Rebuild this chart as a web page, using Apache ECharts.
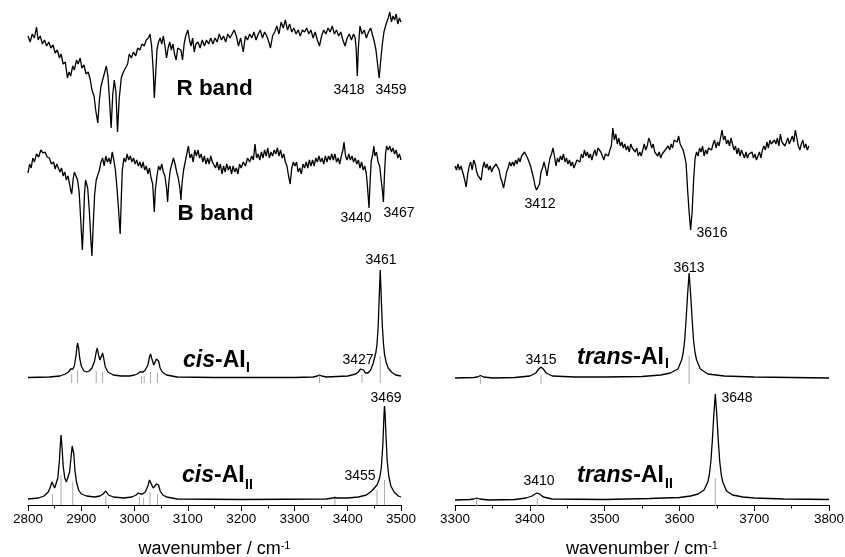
<!DOCTYPE html>
<html>
<head>
<meta charset="utf-8">
<script src="https://cdn.jsdelivr.net/npm/echarts@6.0.0/dist/echarts.min.js"></script>
<style>
  html, body { margin: 0; padding: 0; background: #fff; }
  #main { width: 845px; height: 557px; }
</style>
</head>
<body>
<div id="main"></div>
<script>
// measured spectra, [wavenumber, signal] (arb. units)
const rBand = [
  [2800,14],[2804,8],[2808,16],[2812,12],[2816,23],[2819,10],[2823,14],[2827,6],[2831,10],[2835,4],
  [2839,8],[2843,2],[2847,5],[2851,-3],[2855,0],[2859,-8],[2862,-4],[2866,-14],[2870,-12],[2874,-28],
  [2877,-22],[2880,-26],[2884,-16],[2887,-20],[2891,-10],[2894,-14],[2898,-8],[2901,-18],[2905,-15],[2909,-24],
  [2913,-22],[2917,-30],[2920,-40],[2924,-46],[2927,-60],[2931,-73],[2934,-50],[2937,-36],[2941,-28],[2944,-22],
  [2947,-16],[2950,-26],[2953,-50],[2956,-78],[2959,-45],[2962,-30],[2965,-42],[2968,-82],[2971,-50],[2975,-28],
  [2979,-22],[2983,-18],[2987,-14],[2990,-4],[2994,-8],[2998,-2],[3002,-6],[3006,2],[3010,0],[3014,6],
  [3018,4],[3022,10],[3026,12],[3029,16],[3032,4],[3035,-20],[3037,-48],[3039,-30],[3042,0],[3045,8],
  [3048,12],[3051,6],[3054,14],[3057,4],[3060,-8],[3063,2],[3066,8],[3069,0],[3072,6],[3075,-4],
  [3078,-10],[3081,2],[3084,4],[3087,0],[3090,-10],[3093,6],[3096,14],[3100,20],[3103,10],[3106,4],
  [3109,12],[3112,-2],[3115,6],[3119,8],[3123,2],[3127,10],[3131,4],[3135,10],[3139,6],[3143,12],
  [3147,6],[3151,12],[3155,8],[3159,16],[3163,10],[3167,14],[3171,8],[3175,16],[3179,12],[3183,16],
  [3187,20],[3191,14],[3195,4],[3199,12],[3204,-2],[3208,14],[3212,10],[3216,16],[3220,12],[3224,18],
  [3228,10],[3232,16],[3236,20],[3240,12],[3244,18],[3248,14],[3252,8],[3255,2],[3259,14],[3263,18],
  [3267,24],[3271,16],[3275,28],[3279,22],[3283,30],[3287,20],[3291,26],[3295,18],[3299,22],[3303,16],
  [3307,20],[3311,14],[3315,20],[3319,18],[3323,22],[3327,16],[3331,20],[3335,12],[3339,18],[3343,10],
  [3347,4],[3351,14],[3355,20],[3359,16],[3363,22],[3367,18],[3371,24],[3375,16],[3379,20],[3383,14],
  [3387,18],[3391,10],[3395,4],[3399,12],[3403,16],[3407,10],[3411,16],[3414,12],[3416,0],[3418,-26],
  [3420,2],[3423,24],[3427,16],[3431,20],[3435,12],[3439,18],[3443,22],[3447,14],[3450,8],[3453,0],
  [3456,-14],[3459,-28],[3462,-10],[3465,6],[3468,18],[3472,26],[3476,32],[3479,38],[3482,28],[3485,34],
  [3488,30],[3491,36],[3494,26],[3497,32],[3500,28]
];

const bBand = [
  [2800,-3],[2803,6],[2806,2],[2809,12],[2812,8],[2816,16],[2820,13],[2824,20],[2828,17],[2832,18],
  [2836,13],[2840,12],[2844,6],[2848,8],[2851,1],[2854,6],[2857,8],[2860,-2],[2863,2],[2866,-6],
  [2869,-2],[2872,-10],[2875,-6],[2878,-14],[2880,-20],[2882,-24],[2885,-8],[2887,-2],[2890,-4],[2893,-10],
  [2896,-22],[2899,-50],[2902,-80],[2904,-55],[2906,-24],[2908,-10],[2910,-8],[2912,-18],[2915,-40],[2918,-70],
  [2920,-86],[2922,-60],[2925,-25],[2928,-10],[2931,-12],[2934,0],[2937,8],[2940,12],[2943,4],[2946,14],
  [2949,8],[2952,12],[2955,6],[2958,18],[2961,10],[2964,0],[2967,-18],[2970,-40],[2973,-64],[2975,-30],
  [2977,0],[2980,12],[2983,8],[2986,16],[2989,10],[2992,14],[2995,8],[2998,12],[3001,6],[3004,10],
  [3007,4],[3010,8],[3013,2],[3016,8],[3019,0],[3022,4],[3025,-4],[3028,2],[3031,-8],[3034,-14],
  [3037,-42],[3039,-20],[3042,-6],[3045,4],[3048,0],[3051,6],[3054,-2],[3057,-6],[3060,-18],[3062,-32],
  [3064,-14],[3067,0],[3070,6],[3073,12],[3076,6],[3079,-2],[3082,-8],[3085,-18],[3087,-30],[3089,-14],
  [3092,0],[3095,8],[3098,16],[3101,24],[3104,12],[3107,16],[3110,8],[3113,20],[3116,14],[3119,20],
  [3122,12],[3125,16],[3128,8],[3131,14],[3134,6],[3137,12],[3140,6],[3143,14],[3146,8],[3149,10],
  [3152,2],[3155,8],[3158,0],[3161,6],[3164,-4],[3167,4],[3170,-2],[3173,6],[3176,0],[3179,4],
  [3182,-4],[3185,4],[3188,-2],[3191,2],[3194,-4],[3197,6],[3200,2],[3204,8],[3208,4],[3212,12],
  [3216,8],[3220,14],[3223,10],[3226,26],[3229,12],[3232,16],[3235,10],[3238,18],[3241,12],[3244,20],
  [3247,14],[3250,22],[3253,12],[3256,18],[3259,14],[3262,20],[3265,16],[3268,22],[3271,14],[3274,20],
  [3277,12],[3280,16],[3283,8],[3286,4],[3289,-6],[3292,-14],[3295,2],[3298,8],[3301,4],[3304,8],
  [3307,-2],[3310,2],[3313,-4],[3316,6],[3319,2],[3322,8],[3325,2],[3328,10],[3331,4],[3334,10],
  [3337,4],[3340,12],[3343,8],[3346,14],[3349,8],[3352,12],[3355,6],[3358,14],[3361,8],[3364,14],
  [3367,10],[3370,16],[3373,10],[3376,16],[3379,8],[3382,12],[3385,6],[3388,14],[3391,20],[3393,28],
  [3396,14],[3399,10],[3402,16],[3405,10],[3408,14],[3411,8],[3414,12],[3417,6],[3420,10],[3423,2],
  [3426,8],[3429,0],[3432,4],[3435,-4],[3437,-16],[3440,-38],[3442,-12],[3444,8],[3447,16],[3449,24],
  [3451,14],[3454,18],[3457,8],[3460,4],[3462,-6],[3465,-20],[3467,-32],[3469,-4],[3471,16],[3473,24],
  [3476,20],[3479,24],[3482,18],[3485,22],[3488,16],[3491,20],[3494,12],[3497,16],[3500,10]
];

const transExp = [
  [3300,-6],[3302,-10],[3304,-4],[3306,-10],[3308,-6],[3311,-14],[3313,-20],[3315,-27],[3317,-14],[3319,-6],
  [3321,-2],[3323,-10],[3325,0],[3327,-4],[3329,-12],[3331,-16],[3333,-18],[3335,-20],[3337,-8],[3339,-2],
  [3341,-8],[3343,-4],[3345,-10],[3347,-6],[3349,-12],[3351,-8],[3353,-10],[3355,-4],[3357,-2],[3359,-10],
  [3361,-18],[3363,-22],[3365,-28],[3367,-20],[3369,-12],[3371,-8],[3373,-2],[3375,-6],[3377,-2],[3379,-6],
  [3381,0],[3383,-4],[3385,2],[3387,-2],[3389,4],[3391,2],[3393,8],[3395,6],[3397,2],[3399,0],
  [3401,-6],[3403,-12],[3405,-18],[3407,-26],[3409,-30],[3411,-32],[3413,-24],[3415,-12],[3417,-8],[3419,-2],
  [3421,-8],[3423,-16],[3425,-6],[3427,2],[3429,6],[3431,12],[3433,4],[3435,-6],[3437,2],[3439,-2],
  [3441,4],[3443,0],[3445,6],[3447,-2],[3449,2],[3451,-4],[3453,0],[3455,-6],[3457,-2],[3459,-8],
  [3461,-4],[3463,0],[3465,2],[3467,-2],[3469,6],[3471,2],[3473,10],[3475,4],[3477,8],[3479,2],
  [3481,6],[3483,0],[3485,6],[3487,10],[3489,4],[3491,12],[3493,14],[3495,8],[3497,4],[3499,0],
  [3501,6],[3503,8],[3505,4],[3507,10],[3509,14],[3511,32],[3513,20],[3515,26],[3517,16],[3519,22],
  [3521,14],[3523,18],[3525,12],[3527,16],[3529,10],[3531,14],[3533,8],[3535,16],[3537,12],[3539,14],
  [3541,8],[3543,12],[3545,4],[3547,8],[3549,4],[3551,10],[3553,16],[3555,10],[3557,14],[3559,22],
  [3561,18],[3563,12],[3565,16],[3567,8],[3569,10],[3571,4],[3573,8],[3575,2],[3577,6],[3579,4],
  [3581,10],[3583,8],[3585,14],[3587,10],[3589,16],[3591,12],[3593,20],[3595,22],[3597,18],[3599,24],
  [3601,16],[3603,14],[3605,10],[3607,4],[3609,-4],[3611,-30],[3613,-52],[3615,-70],[3617,-52],[3619,-20],
  [3621,2],[3623,8],[3625,4],[3627,12],[3629,8],[3631,14],[3633,4],[3635,10],[3637,6],[3639,12],
  [3641,14],[3643,10],[3645,16],[3647,20],[3649,12],[3651,18],[3653,14],[3655,22],[3657,30],[3659,20],
  [3661,24],[3663,16],[3665,20],[3667,14],[3669,22],[3671,16],[3673,10],[3675,14],[3677,6],[3679,12],
  [3681,4],[3683,10],[3685,6],[3687,2],[3689,8],[3691,2],[3693,6],[3695,4],[3697,8],[3699,2],
  [3701,6],[3703,0],[3705,4],[3707,8],[3709,2],[3711,10],[3713,14],[3715,10],[3717,18],[3719,12],
  [3721,20],[3723,16],[3725,14],[3727,20],[3729,16],[3731,22],[3733,14],[3735,26],[3737,18],[3739,20],
  [3741,14],[3743,18],[3745,22],[3747,16],[3749,20],[3751,24],[3753,18],[3755,30],[3757,22],[3759,14],
  [3761,10],[3763,16],[3765,20],[3767,12],[3769,16],[3771,10],[3773,14]
];

// computed spectra (band envelopes)
const cisI = [
  [2800,0.5],[2840,1],[2860,2],[2870,4],[2876,6],[2880,9],[2882,10],[2884,9],[2887,12],[2890,22],
  [2892,32],[2893,35],[2895,30],[2897,20],[2900,12],[2905,7],[2910,6],[2915,7],[2920,10],[2925,17],
  [2928,26],[2930,30],[2932,24],[2935,18],[2938,22],[2940,25],[2942,20],[2945,11],[2950,6],[2960,3],
  [2975,2],[2990,2],[3000,3],[3005,4],[3010,6],[3013,7],[3016,6],[3020,8],[3025,13],[3028,21],
  [3030,24],[3032,20],[3036,13],[3039,15],[3041,19],[3043,21],[3045,17],[3048,10],[3052,6],[3060,3],
  [3080,1],[3150,0.5],[3300,0.5],[3335,1],[3343,2],[3347,3],[3351,2],[3360,1],[3400,2],[3415,4],
  [3420,6],[3424,9],[3427,10],[3430,8],[3433,5],[3438,5],[3443,8],[3448,15],[3453,26],[3455,34],
  [3457,50],[3459,78],[3461,108],[3463,80],[3465,52],[3467,35],[3469,24],[3472,16],[3476,10],[3482,6],
  [3490,3],[3500,2]
];

const cisII = [
  [2800,1],[2820,2],[2830,4],[2838,8],[2842,13],[2845,18],[2847,17],[2850,12],[2853,14],[2856,22],
  [2859,40],[2861,58],[2862,65],[2864,52],[2866,34],[2869,22],[2872,18],[2875,20],[2878,28],[2881,44],
  [2883,54],[2884,56],[2886,46],[2888,30],[2891,18],[2895,10],[2900,6],[2910,4],[2925,3],[2935,4],
  [2941,6],[2944,8],[2946,9],[2948,8],[2951,5],[2960,3],[2980,2],[2995,3],[3003,5],[3007,7],
  [3009,7],[3011,6],[3015,6],[3020,8],[3025,14],[3028,20],[3029,21],[3031,19],[3035,12],[3038,12],
  [3041,16],[3043,18],[3045,15],[3048,9],[3053,5],[3060,3],[3080,1],[3200,0.5],[3360,1],[3372,2],
  [3376,2.5],[3380,2],[3400,2],[3420,3],[3435,5],[3445,9],[3450,12],[3453,14],[3455,15],[3457,16],
  [3460,22],[3463,32],[3466,56],[3468,84],[3469,94],[3470,88],[3472,62],[3474,40],[3477,24],[3481,14],
  [3487,8],[3495,4],[3500,3]
];

const transI = [
  [3300,1],[3325,1.5],[3330,2],[3334,3.5],[3338,2],[3350,1],[3380,1.5],[3400,3],[3408,6],[3412,10],
  [3415,12],[3418,10],[3422,6],[3430,3],[3460,2],[3500,2],[3550,2.5],[3575,4],[3588,6],[3598,10],
  [3603,19],[3605,26],[3607,38],[3609,60],[3611,85],[3613,106],[3615,85],[3617,60],[3619,38],[3621,26],
  [3623,19],[3628,10],[3638,5],[3660,3],[3700,2],[3800,1]
];

const transII = [
  [3300,1],[3320,1.5],[3325,2],[3329,3],[3333,2],[3345,1],[3380,1.5],[3395,3],[3403,5],[3407,7],
  [3410,8],[3413,7],[3418,4],[3430,2],[3500,1.5],[3560,2.5],[3600,3.5],[3615,5],[3625,7],[3633,11],
  [3638,19],[3640,26],[3642,39],[3644,60],[3646,86],[3648,107],[3650,86],[3652,60],[3654,39],[3656,26],
  [3658,19],[3663,10],[3671,6],[3685,4],[3700,3],[3740,2],[3800,1.5]
];

// calculated line positions and stick heights
const cisISticks = [[2882,4],[2893,8],[2928,7],[2940,6],[3013,2],[3018,2],[3030,6],[3043,5],[3347,2],[3427,4],[3461,22]];
const cisIISticks = [[2846,6],[2862,25],[2884,18],[2946,4],[3009,3],[3017,2],[3029,8],[3043,6],[3376,2],[3455,10],[3469,20]];
const transISticks = [[3334,2],[3415,4],[3613,23]];
const transIISticks = [[3329,2],[3410,3],[3648,23]];

// vertical offsets of the stacked traces
const OFF = { rBand: 455, bBand: 335, cisI: 127, cisII: 5, transExp: 345, transI: 126, transII: 4 };

const FONT = 'Arial, "Liberation Sans", sans-serif';

const chart = echarts.init(document.getElementById('main'));

function shift(data, off) {
  return data.map(d => [d[0], d[1] + off]);
}

function trace(data, off, gi) {
  return {
    type: 'line',
    xAxisIndex: gi,
    yAxisIndex: gi,
    data: shift(data, off),
    symbol: 'none',
    smooth: false,
    animation: false,
    z: 3,
    lineStyle: { color: '#000', width: 1.3 }
  };
}

function sticks(data, off, gi) {
  return {
    type: 'custom',
    coordinateSystem: 'cartesian2d',
    xAxisIndex: gi,
    yAxisIndex: gi,
    data: data.map(d => [d[0], d[1], off]),
    encode: { x: 0, y: 1 },
    animation: false,
    z: 2,
    renderItem: function (params, api) {
      const x = api.value(0);
      const base = api.value(2);
      const p0 = api.coord([x, base - 5]);
      const p1 = api.coord([x, base + api.value(1)]);
      return {
        type: 'line',
        shape: { x1: p0[0], y1: p0[1], x2: p1[0], y2: p1[1] },
        style: { stroke: '#aaa', lineWidth: 1 }
      };
    }
  };
}

function xAxisOpt(gi, min, max) {
  return {
    type: 'value',
    gridIndex: gi,
    min: min,
    max: max,
    interval: 100,
    name: 'wavenumber / cm{sup|-1}',
    nameLocation: 'middle',
    nameGap: 35,
    nameTextStyle: {
      color: '#000', fontSize: 18, fontFamily: FONT,
      rich: { sup: { fontSize: 11, fontFamily: FONT, color: '#000', verticalAlign: 'top', lineHeight: 12 } }
    },
    axisLine: { onZero: false, lineStyle: { color: '#000', width: 1 } },
    axisTick: { length: 6, lineStyle: { color: '#000', width: 1 } },
    minorTick: { show: true, splitNumber: 2, length: 3.5, lineStyle: { color: '#000', width: 1 } },
    splitLine: { show: false },
    minorSplitLine: { show: false },
    axisLabel: { color: '#000', fontSize: 13.5, fontFamily: FONT, margin: 7, formatter: v => String(v) }
  };
}

function label(text, x, y, size, weight) {
  return {
    type: 'text',
    x: x,
    y: y,
    style: {
      text: text, fill: '#000', fontSize: size || 14, fontWeight: weight || 'normal',
      fontFamily: FONT, align: 'center', verticalAlign: 'middle'
    }
  };
}

function title(main, sub, x, y, subX, subY) {
  return [{
    type: 'text', x: x, y: y,
    style: {
      text: '{i|' + main[0] + '}{b|' + main[1] + '}', fill: '#000', verticalAlign: 'middle',
      rich: {
        i: { fontSize: 23, fontWeight: 'bold', fontStyle: 'italic', fontFamily: FONT },
        b: { fontSize: 23, fontWeight: 'bold', fontFamily: FONT }
      }
    }
  }, {
    type: 'text', x: subX, y: subY,
    style: { text: sub, fill: '#000', fontSize: 14, fontWeight: 'bold', fontFamily: FONT, verticalAlign: 'middle' }
  }];
}

chart.setOption({
  animation: false,
  backgroundColor: '#fff',
  grid: [
    { left: 28, right: 444, top: 0, bottom: 52, outerBoundsMode: 'none' },
    { left: 455, right: 16, top: 0, bottom: 52, outerBoundsMode: 'none' }
  ],
  xAxis: [xAxisOpt(0, 2800, 3500), xAxisOpt(1, 3300, 3800)],
  yAxis: [
    { type: 'value', gridIndex: 0, min: 0, max: 505, show: false },
    { type: 'value', gridIndex: 1, min: 0, max: 505, show: false }
  ],
  series: [
    trace(rBand, OFF.rBand, 0),
    trace(bBand, OFF.bBand, 0),
    sticks(cisISticks, OFF.cisI, 0),
    trace(cisI, OFF.cisI, 0),
    sticks(cisIISticks, OFF.cisII, 0),
    trace(cisII, OFF.cisII, 0),
    trace(transExp, OFF.transExp, 1),
    sticks(transISticks, OFF.transI, 1),
    trace(transI, OFF.transI, 1),
    sticks(transIISticks, OFF.transII, 1),
    trace(transII, OFF.transII, 1)
  ],
  graphic: [
    label('R band', 214.5, 89, 22.5, 'bold'),
    label('B band', 215.5, 214, 22.5, 'bold'),
    label('3418', 349, 90),
    label('3459', 391, 90),
    label('3440', 356, 218),
    label('3467', 399, 213),
    label('3412', 540, 204),
    label('3616', 712, 233),
    label('3461', 381, 260),
    label('3427', 358, 360),
    label('3469', 386, 398),
    label('3455', 360, 476),
    label('3613', 689, 268),
    label('3415', 541, 360),
    label('3648', 737, 398),
    label('3410', 539, 481)
  ].concat(
    title(['cis', '-AI'], 'I', 183, 361, 246, 368),
    title(['cis', '-AI'], 'II', 182, 476, 245, 485),
    title(['trans', '-AI'], 'I', 577, 358, 665, 364),
    title(['trans', '-AI'], 'II', 577, 476, 665, 484)
  )
});
</script>
</body>
</html>
